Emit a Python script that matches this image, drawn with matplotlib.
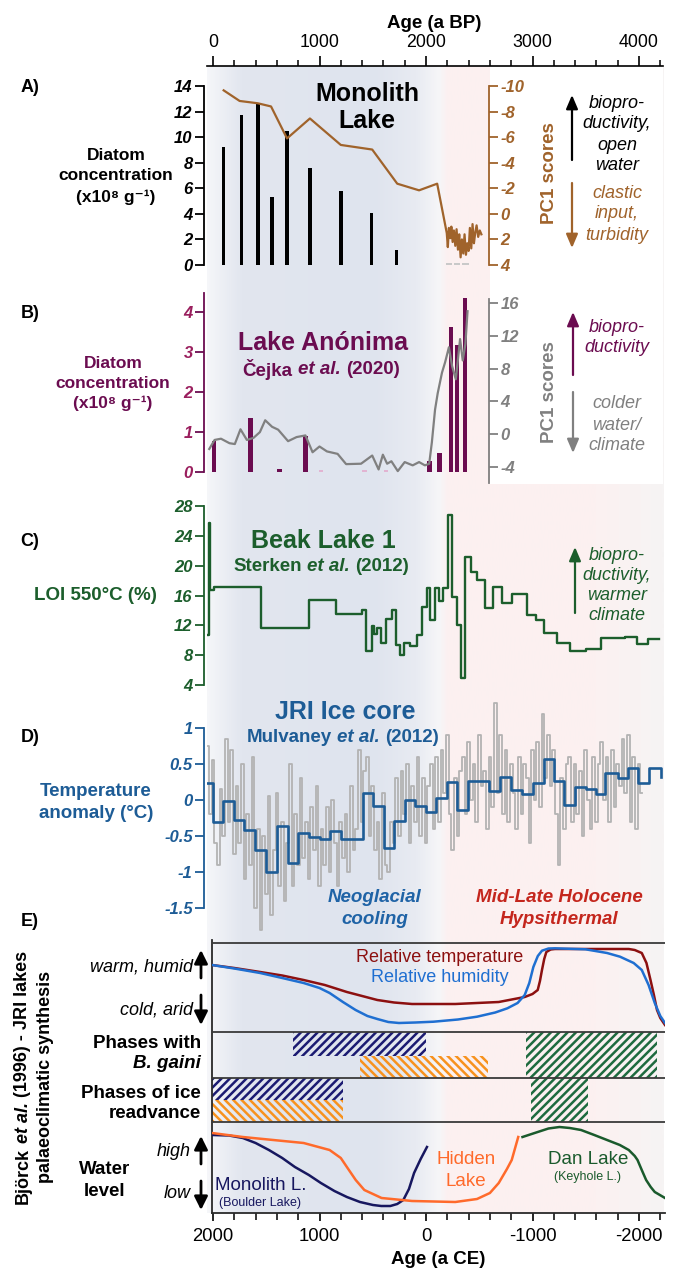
import numpy as np
import matplotlib
matplotlib.use("Agg")
import matplotlib.pyplot as plt
from matplotlib.patches import Rectangle, FancyArrowPatch
from matplotlib.colors import LinearSegmentedColormap

plt.rcParams["font.family"] = ["Liberation Sans", "DejaVu Sans"]
plt.rcParams["hatch.linewidth"] = 1.8

# ---------------- A) Monolith Lake ----------------
mono_bar_age = [100, 268, 422, 555, 695, 910, 1200, 1490, 1725]
mono_bar_conc = [9.2, 11.7, 12.6, 5.3, 10.5, 7.6, 5.8, 4.1, 1.2]
mono_zero_age = [2215, 2290, 2370]
mono_zero_conc = [0.12, 0.12, 0.12]
mono_pc1_age = [100, 250, 420, 545, 695, 910, 1200, 1495, 1730, 1935, 2105,
                2195, 2205, 2215, 2228, 2238, 2250, 2262, 2275, 2287, 2300,
                2312, 2325, 2337, 2350, 2362, 2375, 2387, 2400, 2412, 2425,
                2437, 2450, 2462, 2475, 2490, 2505, 2520]
mono_pc1 = [-9.66, -8.83, -8.65, -8.4, -5.9, -7.46, -5.39, -5.03, -2.36, -1.84, -2.36,
            1.5, 2.6, 1.1, 1.9, 1.0, 2.2, 1.3, 2.5, 1.2, 2.8,
            1.6, 3.4, 2.0, 3.1, 1.6, 3.2, 2.3, 2.9, 1.1, 2.7,
            0.8, 2.3, 1.5, 0.9, 1.8, 1.3, 1.6]

# ---------------- B) Lake Anonima ----------------
anon_bar_age = [10, 350, 628, 870, 2030, 2125, 2235, 2291, 2366]
anon_bar_conc = [0.78, 1.35, 0.07, 0.9, 0.28, 0.47, 3.62, 3.17, 4.35]
anon_trace_age = [1015, 1420, 1625]
anon_trace_conc = [0.04, 0.04, 0.04]
anon_pc1_age = [-35, 15, 75, 155, 205, 258, 318, 380, 440, 490, 555, 612, 705, 785,
                868, 935, 1000, 1070, 1170, 1250, 1390, 1495, 1555, 1595, 1635, 1675,
                1735, 1800, 1875, 1935, 1990, 2030, 2055, 2085, 2110, 2150, 2180,
                2215, 2245, 2280, 2320, 2345, 2370, 2390]
anon_pc1 = [-1.8, -0.7, -0.55, -1.1, -1.2, 0.6, -0.7, -0.45, 0.25, 1.7, 0.9, 0.55, -0.85, -0.35,
            -0.15, -2.2, -1.5, -2.1, -2.4, -3.65, -3.6, -2.6, -4.3, -2.5, -3.6, -3.3,
            -4.5, -3.4, -3.8, -3.4, -3.8, -3.6, -1.0, 3.0, 5.0, 7.5, 8.8,
            10.6, 8.3, 6.7, 11.6, 9.0, 11.0, 15.0]

# ---------------- C) Beak Lake 1 ----------------
beak_age = [-45, -40, -25, 10, 455, 903, 1156, 1400, 1441, 1490, 1510, 1543, 1575, 1624,
            1677, 1714, 1754, 1795, 1848, 1917, 1958, 2011, 2040, 2085, 2121, 2162, 2203,
            2248, 2288, 2329, 2370, 2419, 2480, 2553, 2630, 2716, 2806, 2948, 3030, 3111,
            3233, 3355, 3498, 3640, 3864, 3978, 4080, 4190]
beak_loi = [10.7, 25.7, 16.7, 17.2, 11.7, 15.4, 13.5, 14.0, 8.5, 11.9, 10.9, 11.6, 9.6, 12.9,
            14.0, 9.4, 8.0, 9.6, 9.2, 10.7, 14.5, 17.0, 12.7, 17.0, 15.2, 17.0, 26.8,
            15.8, 12.0, 5.0, 21.1, 19.2, 18.1, 14.3, 17.2, 15.0, 16.2, 13.4, 12.7, 11.0,
            9.6, 8.5, 8.8, 10.3, 10.5, 9.5, 10.2, 10.2]

# ---------------- D) JRI ice core ----------------
jri_step_age = [-66, 3, 97, 197, 295, 397, 500, 605, 700, 800, 902, 1005, 1100, 1202,
                1405, 1507, 1609, 1699, 1800, 1894, 1996, 2098, 2199, 2289, 2391, 2594,
                2696, 2798, 2900, 3002, 3107, 3205, 3299, 3401, 3502, 3596, 3685, 3800,
                3898, 3991, 4093, 4209]
jri_step_temp = [0.23, -0.31, -0.02, -0.28, -0.42, -0.69, -1.0, -0.36, -0.87, -0.46, -0.52,
                 -0.54, -0.43, -0.54, 0.10, -0.09, -0.66, -0.29, 0.0, -0.08, -0.16, 0.03,
                 0.25, -0.14, 0.27, 0.12, 0.32, 0.14, 0.08, 0.24, 0.57, 0.27, -0.07, 0.18,
                 0.15, 0.09, 0.37, 0.30, 0.44, 0.24, 0.44, 0.32]
jri_raw_start, jri_raw_step = -50, 25
jri_raw_temp = [
    0.75, -0.2, 0.55, -0.6, -0.9, 0.15, -0.5, 0.85, -0.3, 0.7, -0.75, 0.2,
    -0.6, 0.5, -1.1, -0.2, -0.9, 0.6, -1.5, -0.4, -1.8, -0.5, -1.3, 0.05,
    -1.6, -0.7, 0.1, -1.2, -0.3, -1.4, -0.6, 0.5, -1.2, -0.2, -0.9, 0.3,
    -0.8, -0.3, -1.1, -0.1, -0.7, 0.2, -1.2, -0.4, -0.9, -0.1, -1.0, 0.0,
    -0.6, -1.2, -0.3, -0.8, -0.2, -1.0, 0.2, -0.7, -0.4, 0.7, -0.3, 0.4,
    0.6, -0.5, 0.2, -0.7, -0.3, -1.1, 0.1, -0.9, -1.0, -0.3, -0.6, 0.3,
    -0.5, 0.4, -0.2, 0.5, -0.6, 0.2, -0.3, 0.6, -0.5, 0.3, -0.6, 0.2,
    0.5, -0.4, 0.6, -0.3, 0.7, 0.1, 0.9, -0.2, -0.7, 0.3, -0.5, 0.4,
    0.6, -0.2, 0.8, 0.0, 0.5, -0.3, 0.9, 0.2, 0.4, -0.4, 0.6, -0.1,
    1.35, 0.1, 0.9, -0.2, 0.7, -0.3, 0.5, 0.1, -0.4, 0.6, -0.2, 0.5,
    0.3, -0.6, 0.7, 0.0, 0.8, -0.1, 1.2, 0.3, 0.9, 0.2, 0.7, -0.2,
    -0.9, 0.3, -0.4, 0.5, 0.6, -0.3, 0.5, -0.2, 0.4, -0.5, 0.7, 0.0,
    -0.4, 0.6, -0.3, 0.5, 0.8, 0.0, 0.6, -0.3, 0.7, -0.1, 0.5, 0.2,
    0.85, 0.1, 0.9, -0.3, 0.6, -0.4, 0.5, 0.1]

# ---------------- E) synthesis (ages in a CE) ----------------
temp_ce = [2009, 1800, 1557, 1350, 1149, 950, 743, 600, 457, 300, 131, -275, -683, -927,
           -1000, -1049, -1070, -1089, -1110, -1130, -1170, -1211, -1904, -1960, -2026,
           -2070, -2108, -2140, -2169, -2200, -2244]
temp_level = [248, 245, 241, 237.5, 233, 228, 221, 217, 213, 210.5, 209, 209, 211, 216,
              219, 223, 232, 243, 254, 261, 263.5, 264, 264, 263, 260,
              250, 233, 218, 203, 195, 188]
humid_ce = [2009, 1800, 1557, 1350, 1149, 1000, 905, 780, 661, 550, 457, 354, 254, 100,
            -71, -300, -479, -650, -764, -860, -927, -970, -1008, -1050, -1089, -1150,
            -1211, -1497, -1700, -1822, -1950, -2026, -2090, -2148, -2200, -2244]
humid_level = [248, 244.5, 240, 235, 230, 225, 220, 211, 203, 197, 194, 191, 190, 190.5,
               191.3, 193.5, 196.3, 200.5, 204.7, 210, 218, 230, 246, 257, 262.3, 264.5,
               264.7, 263.7, 260, 256.3, 250, 243, 228, 210, 197, 190]
gaini_monolith = (1250, 0)
gaini_hidden = (620, -580)
gaini_dan = (-940, -2170)
ice_monolith = (2009, 780)
ice_hidden = (2009, 780)
ice_dan = (-985, -1520)
monolith_ce = [2009, 1850, 1720, 1600, 1475, 1350, 1231, 1100, 987, 860, 743, 620, 498,
               420, 335, 270, 213, 160, 112, 50, -9]
monolith_level = [78, 77.5, 75, 70, 63, 55, 46, 38, 30, 22, 16, 11, 8, 7, 7, 9, 13, 24,
                  40, 54, 66]
hidden_ce = [2009, 1720, 1149, 905, 800, 743, 660, 579, 417, 131, -275, -479, -600, -683,
             -760, -805, -866]
hidden_level = [80, 76, 70, 63, 55, 46, 33, 23, 15, 12, 11, 14, 20, 30, 44, 53, 76]
dan_ce = [-906, -1049, -1150, -1253, -1350, -1456, -1580, -1700, -1820, -1904, -1960,
          -1986, -2030, -2067, -2110, -2148, -2244]
dan_level = [76, 81, 84.5, 86, 85, 83, 78, 73, 68, 63, 57, 53, 42, 33, 26, 21, 15]

# background climate-period band (age in a BP -> colour)
band_age = [-60, 250, 1500, 1900, 2120, 2200, 3600, 4225]
band_col = ["#f5f6f9", "#e2e6ef", "#dfe4ee", "#e8ebf2", "#f6f6f8", "#fcf0f0", "#fcf1f1",
            "#f6f4f4"]

BROWN = "#a0632b"
MAROON = "#6b0c50"
MAROON_T = "#9a1f5e"
GREY = "#808080"
GREEN = "#1c5e2c"
BLUE = "#1d5c96"
TEMP_RED = "#8c1010"
HUM_BLUE = "#1f6fd1"
NAVY = "#17175f"
ORANGE = "#ff6a2b"
HATCH_NAVY = "#1b1b72"
HATCH_ORANGE = "#f7921e"
HATCH_GREEN = "#1e6b3f"
DAN_GREEN = "#1a5a2c"

W, H = 676, 1270
fig = plt.figure(figsize=(W / 100, H / 100), dpi=100)

X_ZERO, PX_PER_YR = 213.0, 0.1065


def age_at(px):
    return (px - X_ZERO) / PX_PER_YR


def ce_at(px):
    return 2000 - (px - X_ZERO) / PX_PER_YR


XL_PX, XR_PX = 206.6, 663.0
XMIN, XMAX = age_at(XL_PX), age_at(XR_PX)


def fx(px):
    return px / W


def fy(py):
    return 1 - py / H


def add_ax(x0, y0, x1, y1, z=1):
    ax = fig.add_axes([x0 / W, 1 - y1 / H, (x1 - x0) / W, (y1 - y0) / H], zorder=z)
    ax.patch.set_visible(False)
    return ax


def span(y_top, y_bot, v1, p1, v2, p2):
    k = (v2 - v1) / (p2 - p1)
    return v1 + (y_bot - p1) * k, v1 + (y_top - p1) * k


def txt(x, y, s, size=13, color="black", weight="normal", style="normal",
        ha="center", va="center", rot=0):
    return fig.text(fx(x), fy(y), s, fontsize=size, color=color, fontweight=weight,
                    fontstyle=style, ha=ha, va=va, rotation=rot)


def rich(xc, yc, parts, size, color, rot=0):
    renderer = fig.canvas.get_renderer()
    space = 0.278 * size * 100 / 72
    arts, lens = [], []
    for s, style in parts:
        t = fig.text(0, 0, s, fontsize=size, fontweight="bold", fontstyle=style,
                     color=color, rotation=rot,
                     ha="left" if rot == 0 else "center",
                     va="center" if rot == 0 else "bottom")
        bb = t.get_window_extent(renderer)
        arts.append(t)
        lens.append(bb.width if rot == 0 else bb.height)
    total = sum(lens) + space * (len(parts) - 1)
    if rot == 0:
        x = xc - total / 2
        for t, L in zip(arts, lens):
            t.set_position((fx(x), fy(yc)))
            x += L + space
    else:
        y = yc + total / 2
        for t, L in zip(arts, lens):
            t.set_position((fx(xc), fy(y)))
            y -= L + space


def arrow(x, y_tail, y_head, color, lw=1.6, hl=0.75, hw=0.32, ms=11):
    a = FancyArrowPatch((fx(x), fy(y_tail)), (fx(x), fy(y_head)),
                        transform=fig.transFigure,
                        arrowstyle=f"-|>,head_length={hl},head_width={hw}",
                        mutation_scale=ms, lw=lw, color=color, shrinkA=0, shrinkB=0)
    fig.add_artist(a)


def style_left(ax, ticks, labels, color, bounds, labelcolor=None):
    for s in ("top", "right", "bottom"):
        ax.spines[s].set_visible(False)
    sp = ax.spines["left"]
    sp.set_color(color)
    sp.set_linewidth(1.3)
    sp.set_bounds(*bounds)
    sp.set_position(("outward", 2))
    ax.set_yticks(ticks)
    ax.set_yticklabels(labels, fontsize=12, fontweight="bold", fontstyle="italic")
    ax.tick_params(axis="y", color=color, labelcolor=labelcolor or color,
                   length=6.5, width=1.3, pad=1.5)
    ax.set_xticks([])


def style_right(ax, ticks, labels, color, bounds, at):
    for s in ("top", "left", "bottom"):
        ax.spines[s].set_visible(False)
    sp = ax.spines["right"]
    sp.set_color(color)
    sp.set_linewidth(1.3)
    sp.set_bounds(*bounds)
    sp.set_position(("data", at))
    ax.set_yticks(ticks)
    ax.set_yticklabels(labels, fontsize=12, fontweight="bold", fontstyle="italic")
    ax.tick_params(axis="y", color=color, labelcolor=color, length=6.5, width=1.3, pad=1.5)
    ax.patch.set_visible(False)


# ---------------- background band ----------------
axbg = add_ax(XL_PX, 66, XR_PX, 1213, z=0)
axbg.set_xlim(XMIN, XMAX)
axbg.set_ylim(1213, 66)
pos = [min(max((a - XMIN) / (XMAX - XMIN), 0.0), 1.0) for a in band_age]
pos[0], pos[-1] = 0.0, 1.0
cmap = LinearSegmentedColormap.from_list("band", list(zip(pos, band_col)))
axbg.imshow(np.linspace(0, 1, 600)[None, :], extent=[XMIN, XMAX, 1213, 66],
            aspect="auto", cmap=cmap, interpolation="bilinear")
axbg.add_patch(Rectangle((2597, 60), XMAX - 2597 + 50, 484 - 60, color="white", lw=0))
axbg.axis("off")

# ---------------- top age axis ----------------
axt = add_ax(XL_PX, 66, XR_PX, 66.5)
axt.set_xlim(XMIN, XMAX)
for s in ("left", "right", "bottom"):
    axt.spines[s].set_visible(False)
axt.spines["top"].set_linewidth(1.2)
axt.xaxis.set_ticks_position("top")
axt.set_xticks([0, 1000, 2000, 3000, 4000])
axt.set_xticklabels(["0", "1000", "2000", "3000", "4000"], fontsize=12.8)
axt.set_xticks(np.arange(0, 4201, 200), minor=True)
axt.tick_params(axis="x", which="major", length=7.5, width=1.2, pad=3)
axt.tick_params(axis="x", which="minor", length=4, width=1.1)
axt.set_yticks([])
txt(434, 23, "Age (a BP)", size=13.5, weight="bold")

# ---------------- A ----------------
axA = add_ax(XL_PX, 80, XR_PX, 272)
axA.set_xlim(XMIN, XMAX)
axA.set_ylim(*span(80, 272, 14, 86, 0, 265))
axA.bar(mono_bar_age, mono_bar_conc, width=32, color="black", zorder=2)
axA.bar(mono_zero_age, mono_zero_conc, width=60, color="#c9c9c9", zorder=2)
style_left(axA, range(0, 15, 2), [str(v) for v in range(0, 15, 2)], "black", (0, 14))
axA2 = axA.twinx()
axA2.set_ylim(*span(80, 272, -10, 86, 4, 265))
axA2.plot(mono_pc1_age, mono_pc1, color=BROWN, lw=1.6, zorder=3)
style_right(axA2, range(-10, 5, 2), [str(v) for v in range(-10, 5, 2)], BROWN, (-10, 4), 2595)

txt(30, 88, "A)", size=13, weight="bold")
txt(367, 94, "Monolith", size=18, weight="bold")
txt(367, 121, "Lake", size=18, weight="bold")
txt(116, 155, "Diatom", size=12.5, weight="bold")
txt(116, 176, "concentration", size=12.5, weight="bold")
txt(116, 197, "(x10⁸ g⁻¹)", size=12.5, weight="bold")
txt(549, 173, "PC1 scores", size=13.5, weight="bold", color=BROWN, rot=90)
for yy, s in zip([103, 124, 145, 165], ["biopro-", "ductivity,", "open", "water"]):
    txt(617, yy, s, size=13, style="italic")
for yy, s in zip([193, 214, 235], ["clastic", "input,", "turbidity"]):
    txt(617, yy, s, size=13, style="italic", color=BROWN)
arrow(572, 160, 95, "black")
arrow(572, 183, 248, BROWN)

# ---------------- B ----------------
axB = add_ax(XL_PX, 288, XR_PX, 486)
axB.set_xlim(XMIN, XMAX)
axB.set_ylim(*span(288, 486, 4, 312, 0, 472))
axB.bar(anon_bar_age, anon_bar_conc, width=45, color=MAROON, zorder=2)
axB.bar(anon_trace_age, anon_trace_conc, width=45, color="#e2b4d2", zorder=2)
style_left(axB, range(0, 5), [str(v) for v in range(0, 5)], MAROON, (0, 4.48), MAROON_T)
axB2 = axB.twinx()
axB2.set_ylim(*span(288, 486, 16, 303, -4, 467))
axB2.plot(anon_pc1_age, anon_pc1, color=GREY, lw=1.6, zorder=3)
style_right(axB2, range(-4, 17, 4), [str(v) for v in range(-4, 17, 4)], GREY, (-5.9, 16.5), 2595)

txt(30, 313, "B)", size=13, weight="bold")
txt(323, 343, "Lake Anónima", size=18, weight="bold", color=MAROON)
rich(321, 370, [("Čejka", "normal"), ("et al.", "italic"), ("(2020)", "normal")], 13.5, MAROON)
txt(113, 363, "Diatom", size=12.5, weight="bold", color=MAROON)
txt(113, 383, "concentration", size=12.5, weight="bold", color=MAROON)
txt(113, 403, "(x10⁸ g⁻¹)", size=12.5, weight="bold", color=MAROON)
txt(549, 392, "PC1 scores", size=13.5, weight="bold", color=GREY, rot=90)
txt(617, 327, "biopro-", size=13, style="italic", color=MAROON)
txt(617, 348, "ductivity", size=13, style="italic", color=MAROON)
for yy, s in zip([404, 425, 446], ["colder", "water/", "climate"]):
    txt(617, yy, s, size=13, style="italic", color=GREY)
arrow(573, 375, 312, MAROON)
arrow(573, 392, 453, GREY)

# ---------------- C ----------------
axC = add_ax(XL_PX, 500, XR_PX, 690)
axC.set_xlim(XMIN, XMAX)
axC.set_ylim(*span(500, 690, 28, 506, 4, 685))
axC.step(beak_age, beak_loi, where="post", color=GREEN, lw=1.7, zorder=3)
style_left(axC, range(4, 29, 4), [str(v) for v in range(4, 29, 4)], GREEN, (4, 28))

txt(30, 542, "C)", size=13, weight="bold")
txt(323, 541, "Beak Lake 1", size=18, weight="bold", color=GREEN)
rich(321, 567, [("Sterken", "normal"), ("et al.", "italic"), ("(2012)", "normal")], 13.5, GREEN)
txt(95, 596, "LOI 550°C (%)", size=13.5, weight="bold", color=GREEN)
for yy, s in zip([555, 575, 595, 615], ["biopro-", "ductivity,", "warmer", "climate"]):
    txt(617, yy, s, size=13, style="italic", color=GREEN)
arrow(575, 613, 547, GREEN)

# ---------------- D ----------------
axD = add_ax(XL_PX, 695, XR_PX, 935)
axD.set_xlim(XMIN, XMAX)
axD.set_ylim(*span(695, 935, 1, 728, -1.5, 908))
raw_age = jri_raw_start + jri_raw_step * np.arange(len(jri_raw_temp))
axD.plot(raw_age, jri_raw_temp, drawstyle="steps-mid", color="#b3b3b3", lw=1.3, zorder=2)
axD.step(jri_step_age, jri_step_temp, where="post", color=BLUE, lw=1.9, zorder=3)
d_ticks = [-1.5, -1, -0.5, 0, 0.5, 1]
style_left(axD, d_ticks, ["-1.5", "-1", "-0.5", "0", "0.5", "1"], BLUE, (-1.5, 1))

txt(30, 738, "D)", size=13, weight="bold")
txt(345, 712, "JRI Ice core", size=18, weight="bold", color=BLUE)
rich(343, 737, [("Mulvaney", "normal"), ("et al.", "italic"), ("(2012)", "normal")], 13.5, BLUE)
txt(96, 792, "Temperature", size=13.5, weight="bold", color=BLUE)
txt(96, 813, "anomaly (°C)", size=13.5, weight="bold", color=BLUE)
txt(375, 898, "Neoglacial", size=13.5, weight="bold", style="italic", color="#1f63a6")
txt(375, 920, "cooling", size=13.5, weight="bold", style="italic", color="#1f63a6")
txt(559, 898, "Mid-Late Holocene", size=13.5, weight="bold", style="italic", color="#c4261d")
txt(559, 920, "Hypsithermal", size=13.5, weight="bold", style="italic", color="#c4261d")

# ---------------- E ----------------
axE = add_ax(212, 940, 665, 1213, z=2)
axE.set_xlim(ce_at(212), ce_at(665))
axE.set_ylim(0, 273)
for yv in (270, 181, 135, 91):
    axE.axhline(yv, color="#3a3a3a", lw=1.3, zorder=4)
for s in ("top", "right"):
    axE.spines[s].set_visible(False)
for s in ("left", "bottom"):
    axE.spines[s].set_color("#2a2a2a")
    axE.spines[s].set_linewidth(1.3)
axE.set_yticks([])
axE.set_xticks([2000, 1000, 0, -1000, -2000])
axE.set_xticklabels(["2000", "1000", "0", "-1000", "-2000"], fontsize=13.3)
axE.set_xticks(np.arange(-2200, 2001, 200), minor=True)
axE.tick_params(axis="x", which="major", length=6, width=1.2, pad=5)
axE.tick_params(axis="x", which="minor", length=5, width=1.1)


def hatch_box(ax, extent, y0, y1, color, pattern):
    a, b = extent
    ax.add_patch(Rectangle((min(a, b), y0), abs(a - b), y1 - y0, facecolor="none",
                           edgecolor=color, hatch=pattern, lw=0, zorder=2))


hatch_box(axE, gaini_monolith, 157, 181, HATCH_NAVY, "////")
hatch_box(axE, gaini_hidden, 135, 157, HATCH_ORANGE, "\\\\\\\\")
hatch_box(axE, gaini_dan, 135, 181, HATCH_GREEN, "////")
hatch_box(axE, ice_monolith, 113, 135, HATCH_NAVY, "////")
hatch_box(axE, ice_hidden, 91, 113, HATCH_ORANGE, "\\\\\\\\")
hatch_box(axE, ice_dan, 91, 135, HATCH_GREEN, "////")

axE.plot(temp_ce, temp_level, color=TEMP_RED, lw=1.8, zorder=3)
axE.plot(humid_ce, humid_level, color=HUM_BLUE, lw=1.8, zorder=3)
axE.plot(monolith_ce, monolith_level, color=NAVY, lw=1.8, zorder=3)
axE.plot(hidden_ce, hidden_level, color=ORANGE, lw=1.8, zorder=3)
axE.plot(dan_ce, dan_level, color=DAN_GREEN, lw=1.8, zorder=3)

txt(30, 921, "E)", size=13, weight="bold")
rich(23, 1077, [("Björck", "normal"), ("et al.", "italic"), ("(1996) - JRI lakes", "normal")],
     13, "black", rot=90)
txt(46, 1077, "palaeoclimatic synthesis", size=13, weight="bold", rot=90)
txt(193, 967, "warm, humid", size=13, style="italic", ha="right")
txt(193, 1010, "cold, arid", size=13, style="italic", ha="right")
arrow(201, 978, 950, "black", lw=2.0, hl=0.8, hw=0.4, ms=10)
arrow(201, 995, 1025, "black", lw=2.0, hl=0.8, hw=0.4, ms=10)
txt(201, 1043, "Phases with", size=13.5, weight="bold", ha="right")
txt(201, 1064, "B. gaini", size=13.5, weight="bold", style="italic", ha="right")
txt(201, 1093, "Phases of ice", size=13.5, weight="bold", ha="right")
txt(201, 1114, "readvance", size=13.5, weight="bold", ha="right")
txt(191, 1152, "high", size=13, style="italic", ha="right")
txt(191, 1194, "low", size=13, style="italic", ha="right")
arrow(201, 1164, 1136, "black", lw=2.0, hl=0.8, hw=0.4, ms=10)
arrow(201, 1181, 1210, "black", lw=2.0, hl=0.8, hw=0.4, ms=10)
txt(105, 1170, "Water", size=13.5, weight="bold")
txt(105, 1191, "level", size=13.5, weight="bold")

txt(440, 957, "Relative temperature", size=13, color=TEMP_RED)
txt(440, 978, "Relative humidity", size=13, color=HUM_BLUE)
txt(215, 1185, "Monolith L.", size=13.5, color=NAVY, ha="left")
txt(260, 1203, "(Boulder Lake)", size=9, color=NAVY)
txt(466, 1160, "Hidden", size=13.5, color=ORANGE)
txt(466, 1182, "Lake", size=13.5, color=ORANGE)
txt(588, 1160, "Dan Lake", size=13.5, color=DAN_GREEN)
txt(588, 1177, "(Keyhole L.)", size=9, color=DAN_GREEN)
txt(438, 1260, "Age (a CE)", size=13.5, weight="bold")

fig.savefig("out.png", dpi=100)
